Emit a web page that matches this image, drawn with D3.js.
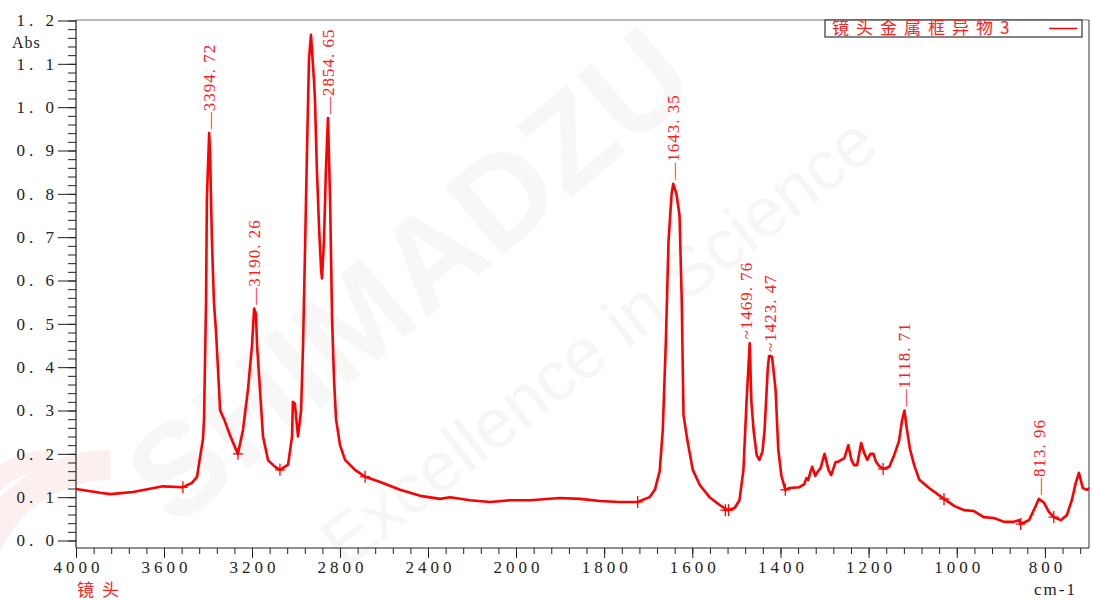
<!DOCTYPE html>
<meta charset="utf-8">
<style>
body { margin: 0; background: #fff; }
svg { display: block; }
.num { font-family: "Liberation Serif", serif; fill: #222; }
.peak text { font-family: "Liberation Serif", serif; font-size: 17px; fill: #ff2020; letter-spacing: 1px; }
</style>
<svg width="1093" height="601"></svg>
<script src="https://cdn.jsdelivr.net/npm/d3@7"></script>
<script>

// spectrum (cm-1, Abs)
var wavenumber = [4000,3891,3845,3741,3605,3514,3473,3450,3436,3423,3418,3409,3405,3394.72,3391,3382,3373,3364,3355,3345,3327,3300,3273,3264,
  3241,3218,3200,3190.26,3182,3177,3164,3150,3127,3095,3073,3036,3018,3014,3005,2991,2977,2968,2959,2950,2941,2932,2918,2914,2905,2895,2886,2882,
  2873,2864,2854.65,2845,2836,2827,2818,2800,2777,2732,2686,2618,2527,2436,2345,2300,2209,2118,2027,1968,1900,1855,1810,1765,1724,1697,1685,1674,
  1667,1660,1654,1647,1643.35,1636,1629,1624,1620,1611,1599,1583,1561,1538,1520,1504,1493,1484,1477,1469.76,1466,1461,1454,1448,1441,1436,1429,
  1426,1423.47,1419,1411,1405,1398,1389,1380,1357,1346,1341,1337,1332,1328,1321,1316,1309,1300,1291,1285,1275,1271,1262,1255,1246,1239,1233,1226,
  1217,1210,1203,1196,1189,1183,1176,1167,1153,1142,1131,1124,1118.71,1113,1106,1097,1085,1063,1029,1006,984,961,939,916,893,871,859,855,836,823,
  813.96,802,791,780,764,750,739,730,723,714,705,698];
var absorbance = [0.119,0.110,0.107,0.112,0.125,0.123,0.133,0.147,0.193,0.233,0.28,0.55,0.79,0.94,0.90,0.69,0.55,0.485,0.40,0.30,0.28,0.243,0.21,0.20,
  0.255,0.35,0.45,0.535,0.523,0.45,0.35,0.24,0.185,0.17,0.163,0.175,0.24,0.32,0.315,0.24,0.30,0.45,0.67,0.90,1.11,1.167,1.06,1.02,0.855,0.72,0.625,0.605,
  0.69,0.855,0.975,0.785,0.51,0.37,0.28,0.22,0.186,0.163,0.147,0.135,0.117,0.103,0.096,0.10,0.093,0.089,0.093,0.093,0.098,0.096,0.091,0.089,0.089,0.10,0.117,0.16,
  0.255,0.46,0.69,0.80,0.823,0.80,0.75,0.555,0.29,0.23,0.163,0.128,0.10,0.082,0.07,0.075,0.093,0.163,0.32,0.455,0.32,0.255,0.197,0.186,0.204,0.255,0.393,
  0.425,0.426,0.423,0.347,0.21,0.15,0.117,0.121,0.123,0.13,0.144,0.14,0.158,0.17,0.149,0.158,0.167,0.20,0.163,0.151,0.181,0.181,0.186,0.19,0.22,0.186,0.174,0.174,
  0.225,0.202,0.186,0.20,0.20,0.181,0.172,0.165,0.17,0.197,0.23,0.278,0.30,0.255,0.21,0.175,0.14,0.121,0.096,0.08,0.07,0.068,0.054,0.052,0.043,0.043,0.047,0.038,0.047,0.075,
  0.096,0.087,0.066,0.054,0.047,0.059,0.093,0.133,0.156,0.121,0.117,0.121];

var peakPos  = [3394.72, 3190.26, 2854.65, 1643.35, 1469.76, 1423.47, 1118.71, 813.96];
var peakAbs  = [0.94, 0.535, 0.975, 0.823, 0.455, 0.426, 0.30, 0.096];
var peakMark = ["—", "—", "—", "—", "~", "~", "—", "—"];

var markPos = [3514, 3264, 3073, 2686, 1724, 1525, 1518, 1389, 1167, 1029, 855, 780];
var markAbs = [0.123, 0.20, 0.163, 0.147, 0.089, 0.07, 0.07, 0.117, 0.165, 0.096, 0.038, 0.054];

var xMajor = [4000,3600,3200,2800,2400,2000,1800,1600,1400,1200,1000,800];
var yMajor = [0,0.1,0.2,0.3,0.4,0.5,0.6,0.7,0.8,0.9,1.0,1.1,1.2];

var legendText = "镜头金属框异物3";

var svg = d3.select("svg");

var x = d3.scaleLinear().domain([4000, 2000, 700]).range([76, 516, 1089]);
var y = d3.scaleLinear().domain([0, 1.2]).range([540.5, 20.5]);
var axisY = 548;

// faint watermark
var wm = svg.append("g").attr("class", "watermark");
wm.append("path")
    .attr("d", "M-40,601 A150,150 0 0,1 110,450 L110,480 A120,120 0 0,0 -10,601 Z M-40,540 A90,90 0 0,1 50,450 L50,470 A70,70 0 0,0 -20,540 Z")
    .attr("fill", "#fcefef");
wm.append("text")
    .attr("transform", "translate(175,530) rotate(-40)")
    .style("font-family", "Liberation Sans, sans-serif")
    .style("font-weight", "bold")
    .style("font-size", "130px")
    .attr("fill", "#f7f7f7")
    .text("SHIMADZU");
wm.append("text")
    .attr("transform", "translate(345,570) rotate(-38)")
    .style("font-family", "Liberation Sans, sans-serif")
    .style("font-size", "70px")
    .attr("fill", "#f6f6f6")
    .text("Excellence in Science");

// frame top / right
svg.append("line").attr("x1", 76).attr("x2", 1089).attr("y1", 20).attr("y2", 20)
    .attr("stroke", "#777").attr("stroke-width", 1.2);
svg.append("line").attr("x1", 1089).attr("x2", 1089).attr("y1", 20).attr("y2", axisY)
    .attr("stroke", "#555").attr("stroke-width", 1.2);

// x axis
var minorX = d3.range(4000, 2000, -80).concat(d3.range(2000, 699, -40));
svg.append("g")
    .attr("transform", "translate(0," + axisY + ")")
    .call(d3.axisBottom(x).tickValues(minorX).tickSize(6).tickFormat(""))
    .call(function(g) { g.select(".domain").remove(); });
var gx = svg.append("g")
    .attr("transform", "translate(0," + axisY + ")")
    .call(d3.axisBottom(x).tickValues(xMajor).tickSize(10).tickPadding(3).tickFormat(d3.format("d")));
gx.select(".domain").remove();
gx.selectAll("text")
    .attr("class", "num")
    .attr("dx", 2)
    .style("font-size", "17px")
    .style("letter-spacing", "4px");
svg.selectAll(".tick line").attr("stroke", "#222");
svg.append("line").attr("x1", 76).attr("x2", 1089).attr("y1", axisY).attr("y2", axisY)
    .attr("stroke", "#222").attr("stroke-width", 1.2);

// y axis
var minorY = d3.range(0, 1.201, 0.02);
svg.append("g")
    .attr("transform", "translate(76,0)")
    .call(d3.axisLeft(y).tickValues(minorY).tickSize(8).tickFormat(""))
    .call(function(g) { g.select(".domain").remove(); });
var gy = svg.append("g")
    .attr("transform", "translate(76,0)")
    .call(d3.axisLeft(y).tickValues(yMajor).tickSize(18).tickPadding(0)
      .tickFormat(function(d) { return d.toFixed(1).replace(".", ". "); }));
gy.select(".domain").remove();
gy.selectAll("text")
    .attr("class", "num")
    .style("font-size", "17px")
    .style("letter-spacing", "4px");
svg.selectAll(".tick line").attr("stroke", "#222");
svg.append("line").attr("x1", 76).attr("x2", 76).attr("y1", 20).attr("y2", axisY)
    .attr("stroke", "#222").attr("stroke-width", 1.2);

svg.append("text").attr("class", "num").attr("x", 12).attr("y", 48)
    .style("font-size", "16px").style("letter-spacing", "1px").text("Abs");
svg.append("text").attr("class", "num").attr("x", 1034).attr("y", 595)
    .style("font-size", "17px").style("letter-spacing", "2px").text("cm-1");
svg.append("text").attr("x", 77).attr("y", 596)
    .style("font-family", "Noto Sans CJK SC, sans-serif").style("font-size", "17px")
    .style("letter-spacing", "8px").attr("fill", "#ff2020").text("镜头");

// spectrum
var pts = wavenumber.map(function(w, i) { return [w, absorbance[i]]; });
svg.append("clipPath").attr("id", "clip").append("rect")
    .attr("x", 76).attr("y", 10).attr("width", 1013).attr("height", 538);
svg.append("path")
    .datum(pts)
    .attr("clip-path", "url(#clip)")
    .attr("fill", "none")
    .attr("stroke", "#ff0000")
    .attr("stroke-width", 2.6)
    .attr("stroke-linejoin", "round")
    .attr("d", d3.line().x(function(d) { return x(d[0]); }).y(function(d) { return y(d[1]); }));

// + marks
var marks = svg.append("g").attr("stroke", "#ff0000").attr("stroke-width", 1.3);
markPos.forEach(function(w, i) {
  var cx = x(w), cy = y(markAbs[i]);
  marks.append("line").attr("x1", cx - 5).attr("x2", cx + 5).attr("y1", cy).attr("y2", cy);
  marks.append("line").attr("x1", cx).attr("x2", cx).attr("y1", cy - 6).attr("y2", cy + 6);
});

// peak labels
var peaks = svg.append("g").attr("class", "peak");
peakPos.forEach(function(w, i) {
  var px = x(w), py = y(peakAbs[i]) - 4;
  if (peakMark[i] == "~") px -= (w > 1450 ? 4 : 0);
  peaks.append("text")
      .attr("transform", "translate(" + px + "," + py + ") rotate(-90)")
      .attr("dy", "0.35em")
      .text(peakMark[i] + w.toFixed(2).replace(".", ". "));
});

// legend
var lg = svg.append("g");
lg.append("rect").attr("x", 825).attr("y", 20).attr("width", 257).attr("height", 17)
    .attr("fill", "#fff").attr("stroke", "#333").attr("stroke-width", 1.2);
lg.append("text").attr("x", 832).attr("y", 34)
    .style("font-family", "Noto Sans CJK SC, sans-serif").style("font-size", "17px")
    .style("letter-spacing", "7px").attr("fill", "#ff2020").text(legendText);
lg.append("line").attr("x1", 1049).attr("x2", 1077).attr("y1", 28.5).attr("y2", 28.5)
    .attr("stroke", "#ff0000").attr("stroke-width", 1.5);

</script>
